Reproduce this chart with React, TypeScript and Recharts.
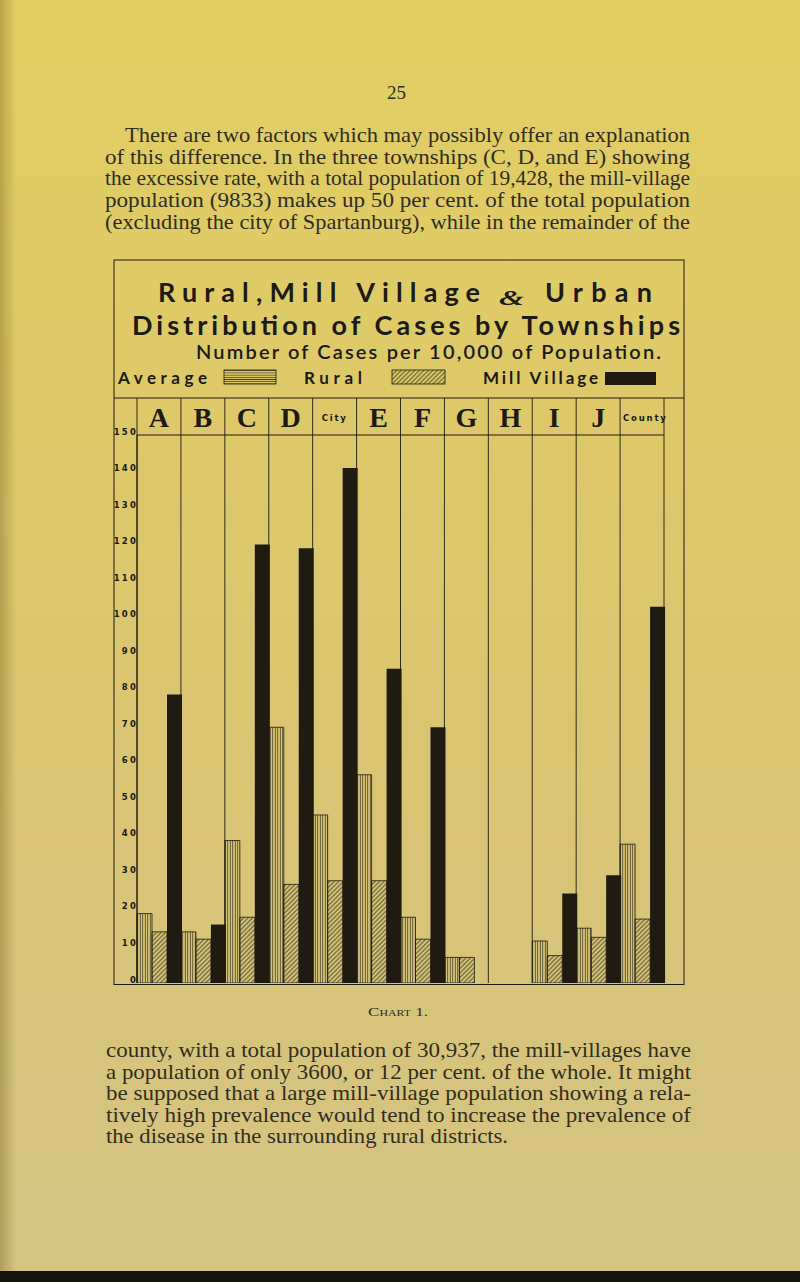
import { BarChart, Bar, XAxis, YAxis, CartesianGrid } from 'recharts';

// cases per 10,000 of population, read off the plate
const categories = ['A', 'B', 'C', 'D', 'City', 'E', 'F', 'G', 'H', 'I', 'J', 'County'];
const averageRate = [19, 14, 39, 70, 46, 57, 18, 7, null, 11.5, 15, 38];
const ruralRate = [14, 12, 18, 27, 28, 28, 12, 7, null, 7.5, 12.5, 17.5];
const millVillageRate = [79, 16, 120, 119, 141, 86, 70, null, null, 24.5, 29.5, 103];
const yTicks = [0, 10, 20, 30, 40, 50, 60, 70, 80, 90, 100, 110, 120, 130, 140, 150];

const topText = [
  'There are two factors which may possibly offer an explanation',
  'of this difference.  In the three townships (C, D, and E) showing',
  'the excessive rate, with a total population of 19,428, the mill-village',
  'population (9833) makes up 50 per cent. of the total population',
  '(excluding the city of Spartanburg), while in the remainder of the',
];
const bottomText = [
  'county, with a total population of 30,937, the mill-villages have',
  'a population of only 3600, or 12 per cent. of the whole.  It might',
  'be supposed that a large mill-village population showing a rela-',
  'tively high prevalence would tend to increase the prevalence of',
  'the disease in the surrounding rural districts.',
];

const data = categories.map((name, i) => ({
  name,
  average: averageRate[i],
  rural: ruralRate[i],
  mill: millVillageRate[i],
}));

const INK = '#201a10';
const PRINT = '#332d1f';
const CHART_W = 571;
const CHART_H = 585;
const Y_W = 23;
const RIGHT = 21;
const HEAD_H = 37;
const BAND = (CHART_W - Y_W - RIGHT) / categories.length;

const HeaderTick = (props: any) => {
  const { x, payload, index } = props;
  const name: string = payload.value;
  const half = BAND / 2;
  const small = name.length > 1;
  return (
    <g>
      <line x1={x - half} x2={x - half} y1={0} y2={HEAD_H} stroke={INK} strokeWidth={0.9} />
      {index === categories.length - 1 && (
        <line x1={x + half} x2={x + half} y1={0} y2={HEAD_H} stroke={INK} strokeWidth={0.9} />
      )}
      {small ? (
        <text
          x={name === 'County' ? x - half + 3 : x}
          y={23}
          textAnchor={name === 'County' ? 'start' : 'middle'}
          fontFamily="DejaVu Sans"
          fontWeight={700}
          fontSize={8.5}
          letterSpacing={1.8}
          fill={INK}
        >
          {name}
        </text>
      ) : (
        <text
          x={x}
          y={29}
          textAnchor="middle"
          fontFamily="Liberation Serif"
          fontWeight={700}
          fontSize={28}
          fill={INK}
        >
          {name}
        </text>
      )}
    </g>
  );
};

const YTick = (props: any) => {
  const { y, payload } = props;
  return (
    <text
      x={Y_W + 1}
      y={y - 0.5}
      textAnchor="end"
      fontFamily="DejaVu Sans"
      fontWeight={700}
      fontSize={8.5}
      letterSpacing={2.2}
      fill={INK}
    >
      {payload.value}
    </text>
  );
};

const columnLines = (p: any) => {
  const left = p?.offset?.left ?? Y_W;
  const w = p?.offset?.width ?? CHART_W - Y_W - RIGHT;
  return Array.from({ length: categories.length + 1 }, (_, i) => left + (i * w) / categories.length);
};

const Line = ({ x, y, text, len, size = 21, family = 'Liberation Serif', weight = 400, adjust = 'spacingAndGlyphs', fill = PRINT, style }: any) => (
  <text
    x={x}
    y={y}
    textLength={len}
    lengthAdjust={adjust}
    fontFamily={family}
    fontWeight={weight}
    fontSize={size}
    fill={fill}
    style={style}
  >
    {text}
  </text>
);

export default function App() {
  return (
    <div
      style={{
        position: 'relative',
        width: 800,
        height: 1282,
        overflow: 'hidden',
        background: 'linear-gradient(180deg, #e2cf62 0%, #ddc968 30%, #d9c572 60%, #d5c384 100%)',
      }}
    >
      <style>{'html,body{margin:0;padding:0;background:#d8c47a;}'}</style>
      <svg width={800} height={1282} style={{ position: 'absolute', left: 0, top: 0 }}>
        <defs>
          <linearGradient id="binding" x1="0" x2="1" y1="0" y2="0">
            <stop offset="0" stopColor="#8a7a30" stopOpacity={0.5} />
            <stop offset="1" stopColor="#8a7a30" stopOpacity={0} />
          </linearGradient>
          <pattern id="legendAvg" width={4} height={2.2} patternUnits="userSpaceOnUse">
            <line x1={0} x2={4} y1={1.1} y2={1.1} stroke={INK} strokeWidth={0.7} />
          </pattern>
          <pattern id="legendRural" width={3.2} height={3.2} patternUnits="userSpaceOnUse" patternTransform="rotate(45)">
            <line x1={1.6} x2={1.6} y1={0} y2={3.2} stroke={INK} strokeWidth={0.7} />
          </pattern>
        </defs>
        <rect x={0} y={0} width={16} height={1282} fill="url(#binding)" />

        <Line x={387} y={99} text="25" len={19} size={19} />
        {topText.map((t, i) => (
          <Line key={t} x={i === 0 ? 125 : 105} y={142 + i * 21.7} text={t} len={i === 0 ? 565 : 585} />
        ))}

        {/* chart frame */}
        <rect x={114} y={260} width={570} height={724.5} fill="none" stroke={INK} strokeWidth={1} />
        <line x1={114} x2={684} y1={398} y2={398} stroke={INK} strokeWidth={1} />

        <Line x={158} y={302} text="Rural,Mill Village" len={322} size={27} family="Lato" weight={700} fill={INK} adjust="spacing" />
        <Line x={499} y={305} text="&" len={25} size={20} family="Liberation Serif" weight={700} fill={INK} style={{ fontStyle: 'italic' }} />
        <Line x={545} y={302} text="Urban" len={107} size={27} family="Lato" weight={700} fill={INK} adjust="spacing" />
        <Line x={132} y={335} text="Distribution of Cases by Townships" len={548} size={27} family="Lato" weight={700} fill={INK} adjust="spacing" />
        <Line x={196} y={359} text="Number of Cases per 10,000 of Population." len={465} size={20} family="Lato" weight={600} fill={INK} adjust="spacing" />

        <Line x={118} y={384} text="Average" len={89} size={17} family="Lato" weight={700} fill={INK} adjust="spacing" />
        <rect x={224} y={370} width={52} height={14} fill="url(#legendAvg)" stroke={INK} strokeWidth={0.8} />
        <Line x={304} y={384} text="Rural" len={58} size={17} family="Lato" weight={700} fill={INK} adjust="spacing" />
        <rect x={392} y={370} width={53} height={14} fill="url(#legendRural)" stroke={INK} strokeWidth={0.8} />
        <Line x={483} y={384} text="Mill Village" len={115} size={17} family="Lato" weight={700} fill={INK} adjust="spacing" />
        <rect x={605} y={372} width={51} height={13} fill={INK} />

        <Line x={368} y={1016} text="Chart 1." len={60} size={13} style={{ fontVariant: 'small-caps' }} />
        {bottomText.map((t, i) => (
          <Line key={t} x={106} y={1057 + i * 21.6} text={t} len={i === bottomText.length - 1 ? 402 : 585} />
        ))}
        <rect x={0} y={1271} width={800} height={11} fill="#17130d" />
      </svg>

      <div style={{ position: 'absolute', left: 114, top: 398 }}>
        <BarChart
          width={CHART_W}
          height={CHART_H}
          data={data}
          margin={{ top: 0, right: RIGHT, left: 0, bottom: 0 }}
          barCategoryGap={0}
          barGap={0}
        >
          <defs>
            <pattern id="avgFill" width={2.5} height={10} patternUnits="userSpaceOnUse">
              <line x1={1.25} x2={1.25} y1={0} y2={10} stroke={INK} strokeWidth={0.7} />
            </pattern>
            <pattern id="ruralFill" width={3.2} height={3.2} patternUnits="userSpaceOnUse" patternTransform="rotate(45)">
              <line x1={1.6} x2={1.6} y1={0} y2={3.2} stroke={INK} strokeWidth={0.7} />
            </pattern>
          </defs>
          <CartesianGrid
            horizontal={false}
            verticalCoordinatesGenerator={columnLines}
            stroke={INK}
            strokeWidth={0.9}
            strokeOpacity={1}
          />
          <XAxis
            dataKey="name"
            orientation="top"
            height={HEAD_H}
            interval={0}
            tickLine={false}
            axisLine={{ stroke: INK, strokeWidth: 1 }}
            tick={<HeaderTick />}
          />
          <YAxis
            width={Y_W}
            domain={[0, 150]}
            ticks={yTicks}
            interval={0}
            tickLine={false}
            axisLine={{ stroke: INK, strokeWidth: 1 }}
            tick={<YTick />}
          />
          <Bar dataKey="average" fill="url(#avgFill)" stroke={INK} strokeWidth={0.8} isAnimationActive={false} />
          <Bar dataKey="rural" fill="url(#ruralFill)" stroke={INK} strokeWidth={0.8} isAnimationActive={false} />
          <Bar dataKey="mill" fill={INK} isAnimationActive={false} />
        </BarChart>
      </div>
    </div>
  );
}
